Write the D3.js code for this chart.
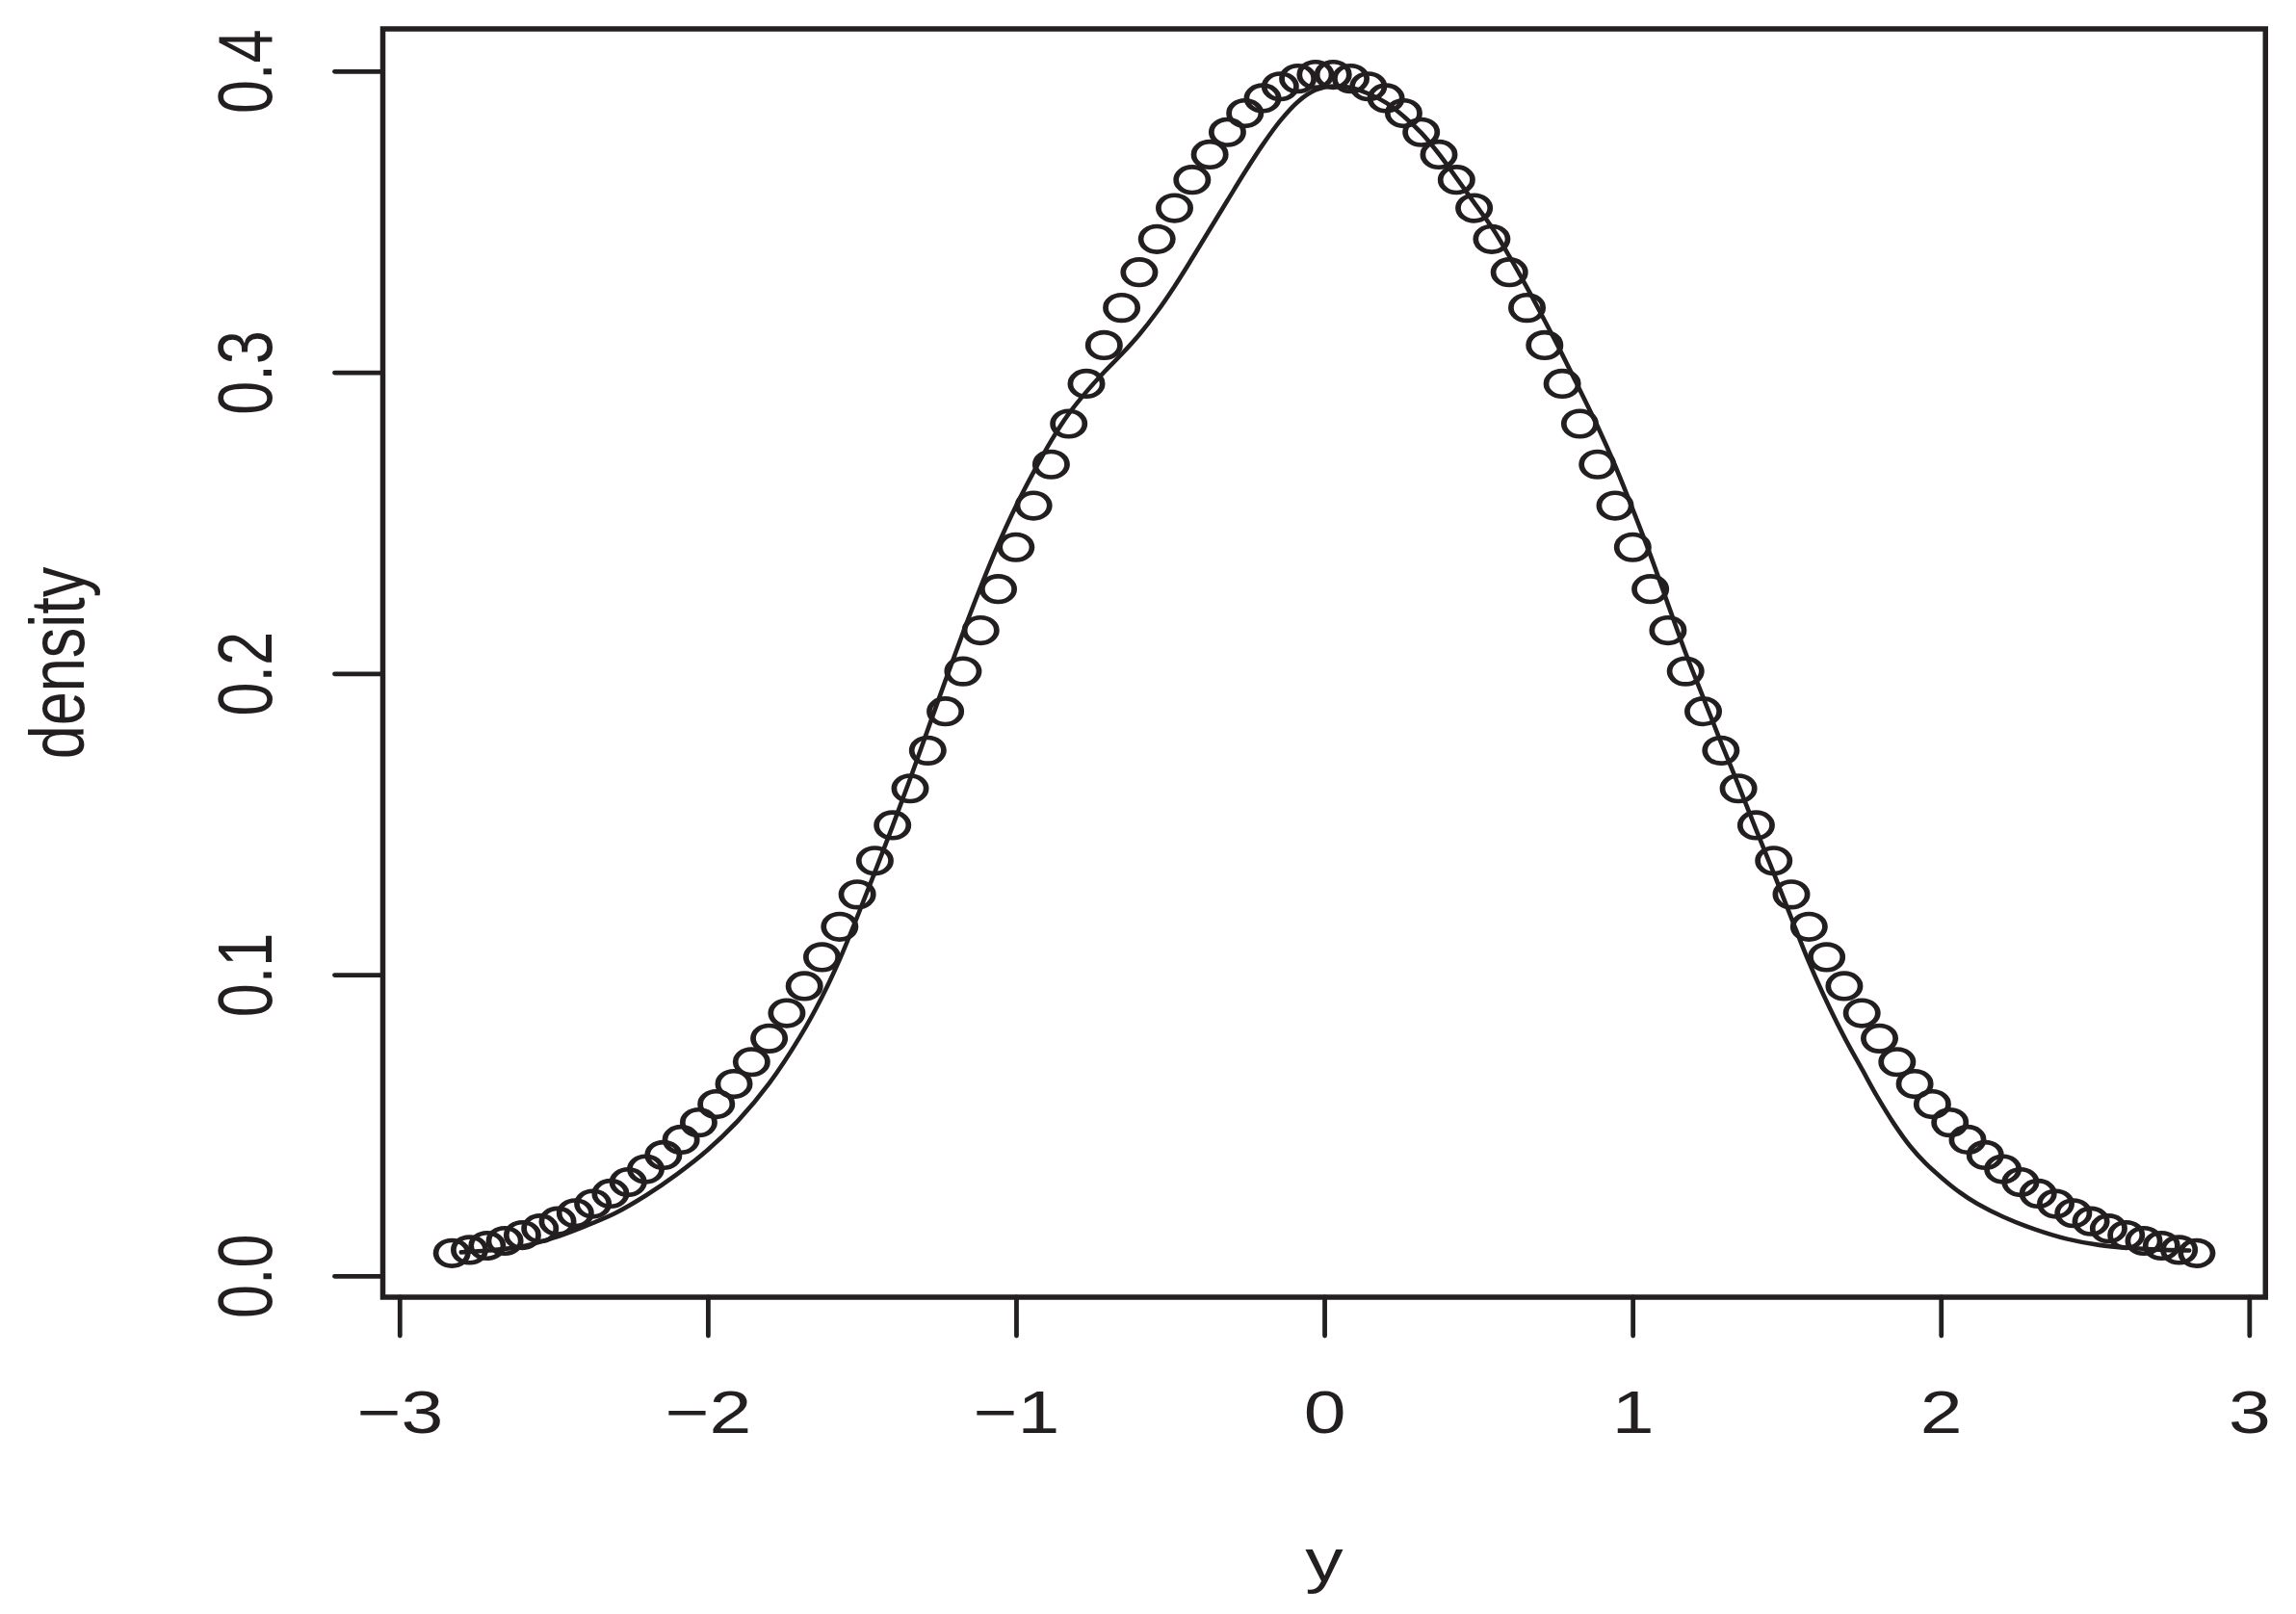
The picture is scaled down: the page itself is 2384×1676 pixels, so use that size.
<!DOCTYPE html>
<html>
<head>
<meta charset="utf-8">
<script src="https://cdn.jsdelivr.net/npm/d3@7"></script>
<style>
html, body { margin: 0; padding: 0; background: #ffffff; }
svg { display: block; }
</style>
</head>
<body>
<script>
// ---------------- data ----------------
const xTicks = [-3, -2, -1, 0, 1, 2, 3];
const yTicks = [0.0, 0.1, 0.2, 0.3, 0.4];
const xLabel = "y";
const yLabel = "density";
const xLimits = [-3.054, 3.053];
const yLimits = [-0.0071, 0.4140];

// open circles (evenly spaced y values)
const circleX = [
  -2.8300, -2.7728, -2.7156, -2.6585, -2.6013, -2.5441, -2.4869, -2.4298, -2.3726, -2.3154,
  -2.2583, -2.2011, -2.1439, -2.0867, -2.0296, -1.9724, -1.9152, -1.8581, -1.8009, -1.7437,
  -1.6866, -1.6294, -1.5722, -1.5150, -1.4579, -1.4007, -1.3435, -1.2864, -1.2292, -1.1720,
  -1.1148, -1.0577, -1.0005, -0.9433, -0.8862, -0.8290, -0.7718, -0.7146, -0.6575, -0.6003,
  -0.5431, -0.4860, -0.4288, -0.3716, -0.3144, -0.2573, -0.2001, -0.1429, -0.0858, -0.0286,
   0.0286,  0.0858,  0.1429,  0.2001,  0.2573,  0.3144,  0.3716,  0.4288,  0.4860,  0.5431,
   0.6003,  0.6575,  0.7146,  0.7718,  0.8290,  0.8862,  0.9433,  1.0005,  1.0577,  1.1148,
   1.1720,  1.2292,  1.2864,  1.3435,  1.4007,  1.4579,  1.5150,  1.5722,  1.6294,  1.6866,
   1.7437,  1.8009,  1.8581,  1.9152,  1.9724,  2.0296,  2.0867,  2.1439,  2.2011,  2.2583,
   2.3154,  2.3726,  2.4298,  2.4869,  2.5441,  2.6013,  2.6585,  2.7156,  2.7728,  2.8300
];
const circleY = [
  0.0075, 0.0086, 0.0100, 0.0116, 0.0135, 0.0157, 0.0181, 0.0208, 0.0239, 0.0273,
  0.0311, 0.0354, 0.0401, 0.0452, 0.0509, 0.0570, 0.0637, 0.0710, 0.0788, 0.0872,
  0.0962, 0.1058, 0.1159, 0.1266, 0.1378, 0.1496, 0.1618, 0.1744, 0.1874, 0.2007,
  0.2143, 0.2280, 0.2419, 0.2557, 0.2694, 0.2829, 0.2962, 0.3090, 0.3214, 0.3332,
  0.3442, 0.3545, 0.3639, 0.3723, 0.3797, 0.3860, 0.3910, 0.3949, 0.3975, 0.3988,
  0.3988, 0.3975, 0.3949, 0.3910, 0.3860, 0.3797, 0.3723, 0.3639, 0.3545, 0.3442,
  0.3332, 0.3214, 0.3090, 0.2962, 0.2829, 0.2694, 0.2557, 0.2419, 0.2280, 0.2143,
  0.2007, 0.1874, 0.1744, 0.1618, 0.1496, 0.1378, 0.1266, 0.1159, 0.1058, 0.0962,
  0.0872, 0.0788, 0.0710, 0.0637, 0.0570, 0.0509, 0.0452, 0.0401, 0.0354, 0.0311,
  0.0273, 0.0239, 0.0208, 0.0181, 0.0157, 0.0135, 0.0116, 0.0100, 0.0086, 0.0075
];

// solid density curve
const lineX = [
  -2.80, -2.70, -2.60, -2.50, -2.40, -2.30, -2.20, -2.10, -2.00, -1.90,
  -1.80, -1.70, -1.6294, -1.5722, -1.5150, -1.4579, -1.4007, -1.3435, -1.2864, -1.2292,
  -1.1720, -1.1148, -1.0577, -1.0005, -0.9433, -0.8862, -0.8290, -0.7718, -0.7146, -0.6575,
  -0.6003, -0.5431, -0.4860, -0.4288, -0.3716, -0.3144, -0.2573, -0.2001, -0.1429, -0.0858,
  -0.0286, 0.0286, 0.0858, 0.1429, 0.2001, 0.2573, 0.3144, 0.3716, 0.4288, 0.4860,
  0.5431, 0.6003, 0.6575, 0.7146, 0.7718, 0.8290, 0.8862, 0.9433, 1.0005, 1.0577,
  1.1148, 1.1720, 1.2292, 1.2864, 1.3435, 1.4007, 1.4579, 1.5150, 1.5722, 1.6395,
  1.6916, 1.7436, 1.7957, 1.8478, 1.8998, 1.9519, 2.0040, 2.0560, 2.1185, 2.2018,
  2.3059, 2.4101, 2.5142, 2.6183, 2.7225, 2.8058
];
const lineY = [
  0.0078, 0.0085, 0.0098, 0.0126, 0.0164, 0.0208, 0.0267, 0.0337, 0.0418, 0.0517,
  0.0640, 0.0795, 0.0926, 0.1050, 0.1192, 0.1340, 0.1492, 0.1650, 0.1813, 0.1976,
  0.2135, 0.2287, 0.2428, 0.2555, 0.2668, 0.2772, 0.2862, 0.2935, 0.3000, 0.3060,
  0.3125, 0.3200, 0.3285, 0.3378, 0.3474, 0.3570, 0.3665, 0.3755, 0.3835, 0.3898,
  0.3937, 0.3950, 0.3945, 0.3925, 0.3895, 0.3850, 0.3795, 0.3725, 0.3645, 0.3563,
  0.3482, 0.3385, 0.3281, 0.3172, 0.3059, 0.2941, 0.2821, 0.2690, 0.2545, 0.2393,
  0.2230, 0.2068, 0.1920, 0.1772, 0.1629, 0.1481, 0.1337, 0.1188, 0.1041, 0.0889,
  0.0783, 0.0687, 0.0591, 0.0505, 0.0431, 0.0372, 0.0324, 0.0281, 0.0239, 0.0196,
  0.0154, 0.0122, 0.0102, 0.0092, 0.0086, 0.0084
];

// ---------------- layout ----------------
const W = 2384, H = 1676;
const plot = { left: 397.5, right: 2352.3, top: 30, bottom: 1347 };
const ink = "#231f20";
const font = "'Liberation Sans', Arial, Helvetica, sans-serif";
const fontSize = 63;
const SX = 1.25; // horizontal stretch seen in the reference glyphs and circles

const svg = d3.select("body").append("svg")
  .attr("width", W).attr("height", H)
  .attr("viewBox", `0 0 ${W} ${H}`);
svg.append("rect").attr("width", W).attr("height", H).attr("fill", "#ffffff");

const x = d3.scaleLinear().domain(xLimits).range([plot.left, plot.right]);
const y = d3.scaleLinear().domain(yLimits).range([plot.bottom, plot.top]);

// density curve
const linePts = lineX.map((v, i) => [v, lineY[i]]);
svg.append("path")
  .datum(linePts)
  .attr("d", d3.line().x(d => x(d[0])).y(d => y(d[1])).curve(d3.curveCatmullRom.alpha(0.5)))
  .attr("fill", "none")
  .attr("stroke", ink)
  .attr("stroke-width", 4.6)
  .attr("stroke-linejoin", "round")
  .attr("stroke-linecap", "round");

// circles
const circPts = circleX.map((v, i) => [v, circleY[i]]);
svg.append("g").selectAll("circle")
  .data(circPts)
  .join("circle")
  .attr("r", 13.3)
  .attr("transform", d => `translate(${x(d[0])},${y(d[1])}) scale(${SX},1)`)
  .attr("fill", "none")
  .attr("stroke", ink)
  .attr("stroke-width", 4.6);

// x axis
const xAxis = svg.append("g")
  .attr("transform", `translate(0,${plot.bottom})`)
  .call(d3.axisBottom(x).tickValues(xTicks).tickSize(40).tickFormat(d3.format("d")));
xAxis.select(".domain").remove();
xAxis.selectAll(".tick line")
  .attr("stroke", ink).attr("stroke-width", 4.8).attr("stroke-linecap", "round");
xAxis.selectAll(".tick text")
  .attr("y", null).attr("dy", null)
  .attr("transform", `translate(0,${1487.5 - plot.bottom}) scale(${SX},1)`)
  .attr("text-anchor", "middle")
  .attr("font-family", font).attr("font-size", fontSize).attr("fill", ink);

// y axis
const yAxis = svg.append("g")
  .attr("transform", `translate(${plot.left},0)`)
  .call(d3.axisLeft(y).tickValues(yTicks).tickSize(50).tickFormat(d3.format(".1f")));
yAxis.select(".domain").remove();
yAxis.selectAll(".tick line")
  .attr("stroke", ink).attr("stroke-width", 4.8).attr("stroke-linecap", "round");
yAxis.selectAll(".tick text")
  .attr("x", null).attr("dy", null)
  .attr("transform", `translate(${282 - plot.left},0) scale(${SX},1) rotate(-90)`)
  .attr("text-anchor", "middle")
  .attr("font-family", font).attr("font-size", fontSize).attr("fill", ink);

// plot box
svg.append("rect")
  .attr("x", plot.left).attr("y", plot.top)
  .attr("width", plot.right - plot.left).attr("height", plot.bottom - plot.top)
  .attr("fill", "none").attr("stroke", ink).attr("stroke-width", 5.5);

// axis titles
svg.append("text")
  .attr("transform", `translate(${(plot.left + plot.right) / 2},1642) scale(${SX},1)`)
  .attr("text-anchor", "middle")
  .attr("font-family", font).attr("font-size", fontSize).attr("fill", ink)
  .text(xLabel);
svg.append("text")
  .attr("transform", `translate(87,${(plot.top + plot.bottom) / 2}) scale(${SX},1) rotate(-90)`)
  .attr("text-anchor", "middle")
  .attr("font-family", font).attr("font-size", fontSize).attr("fill", ink)
  .text(yLabel);
</script>
</body>
</html>
